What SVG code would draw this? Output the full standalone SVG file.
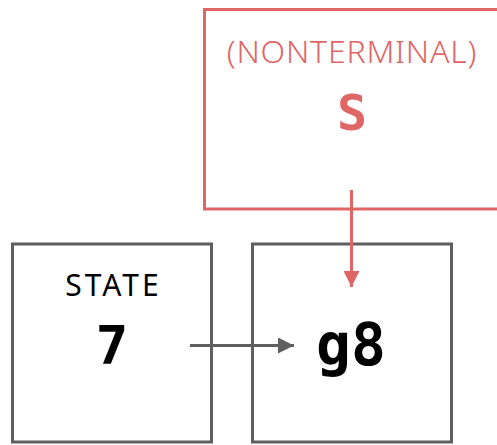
<svg xmlns="http://www.w3.org/2000/svg" width="497" height="445" viewBox="0 0 497 445">
<style>
.box{fill:#fff;stroke:#5f5f5f;stroke-width:3}
.rbox{fill:#fff;stroke:#e06666;stroke-width:3}
.lbl{font-family:"Noto Sans","Open Sans",sans-serif;text-anchor:middle}
.big{font-family:"DejaVu Sans Mono","Liberation Mono",monospace;font-weight:bold;text-anchor:middle}
</style>
<defs>
<marker id="ag" viewBox="0 0 10 10" refX="10" refY="5" markerWidth="16" markerHeight="16" markerUnits="userSpaceOnUse" orient="auto"><path d="M0,0 L10,5 L0,10 z" fill="#5f5f5f"/></marker>
<marker id="ar" viewBox="0 0 10 10" refX="10" refY="5" markerWidth="16" markerHeight="16" markerUnits="userSpaceOnUse" orient="auto"><path d="M0,0 L10,5 L0,10 z" fill="#e06666"/></marker>
</defs>
<g id="nonterminal">
<rect class="rbox" x="204.5" y="9.5" width="300" height="199.5"/>
<text class="lbl" x="352" y="63" font-size="32" font-weight="300" letter-spacing="0.8" fill="#e06666">(NONTERMINAL)</text>
<text class="big" x="352" y="130" font-size="50" fill="#e06666">S</text>
</g>
<g id="state">
<rect class="box" x="12.5" y="244" width="199" height="198"/>
<text class="lbl" x="113.5" y="296" font-size="30" letter-spacing="3" fill="#000">STATE</text>
<text class="big" x="112" y="364" font-size="54" fill="#000">7</text>
</g>
<g id="goto">
<rect class="box" x="252.5" y="244" width="199" height="198"/>
<text class="big" x="351" y="365" font-size="58" fill="#000">g8</text>
</g>
<g id="connectors">
<line x1="351.5" y1="190" x2="351.5" y2="287" stroke="#e06666" stroke-width="3" marker-end="url(#ar)"/>
<line x1="190" y1="345.5" x2="294" y2="345.5" stroke="#5f5f5f" stroke-width="3" marker-end="url(#ag)"/>
</g>
</svg>
